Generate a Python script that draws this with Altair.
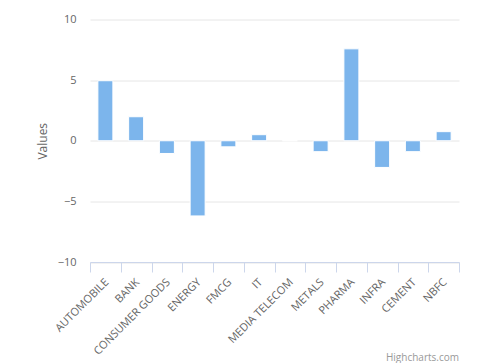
import altair as alt
import pandas as pd

categories = ["AUTOMOBILE", "BANK", "CONSUMER GOODS", "ENERGY", "FMCG", "IT",
              "MEDIA TELECOM", "METALS", "PHARMA", "INFRA", "CEMENT", "NBFC"]
values = [4.95, 1.98, -1.05, -6.2, -0.5, 0.5, 0.0, -0.9, 7.58, -2.2, -0.9, 0.75]
y_ticks = [-10, -5, 0, 5, 10]
credit = ["Highcharts.com"]

df = pd.DataFrame({"category": categories, "value": values})
FONT = "Open Sans"

bars = alt.Chart(df).mark_bar(size=15, color="#7cb5ec", stroke="#ffffff", strokeWidth=1).encode(
    x=alt.X("category:N", sort=categories,
            scale=alt.Scale(paddingInner=0, paddingOuter=0),
            axis=alt.Axis(title=None, labelAngle=-45, labelFont=FONT, labelFontSize=11,
                          labelColor="#666666", domainColor="#ccd6eb", tickColor="#ccd6eb",
                          tickSize=10, tickBand="extent", grid=False, labelPadding=4,
                          labelOffset=-3, labelOverlap=False)),
    y=alt.Y("value:Q", scale=alt.Scale(domain=[-10, 10], nice=False),
            axis=alt.Axis(title="Values", values=y_ticks, labelFont=FONT, labelFontSize=11,
                          labelColor="#666666", titleFont=FONT, titleFontSize=12,
                          titleColor="#666666", titleFontWeight="normal", titlePadding=8,
                          domain=False, ticks=False, labelPadding=14,
                          gridColor="#e6e6e6")),
)

credit_text = alt.Chart(pd.DataFrame({"t": credit})).mark_text(
    font=FONT, fontSize=10, color="#999999", align="right", baseline="alphabetic"
).encode(text="t:N", x=alt.value(369), y=alt.value(341))

chart = alt.layer(bars, credit_text).properties(
    width=369, height=242.5,
    background="#ffffff",
    autosize=alt.AutoSizeParams(type="none"),
    padding={"left": 82, "top": 11.5, "right": 13, "bottom": 101},
).configure_view(stroke="transparent", strokeWidth=0)

chart.save("out.html", embed_options={"renderer": "svg", "actions": False})
